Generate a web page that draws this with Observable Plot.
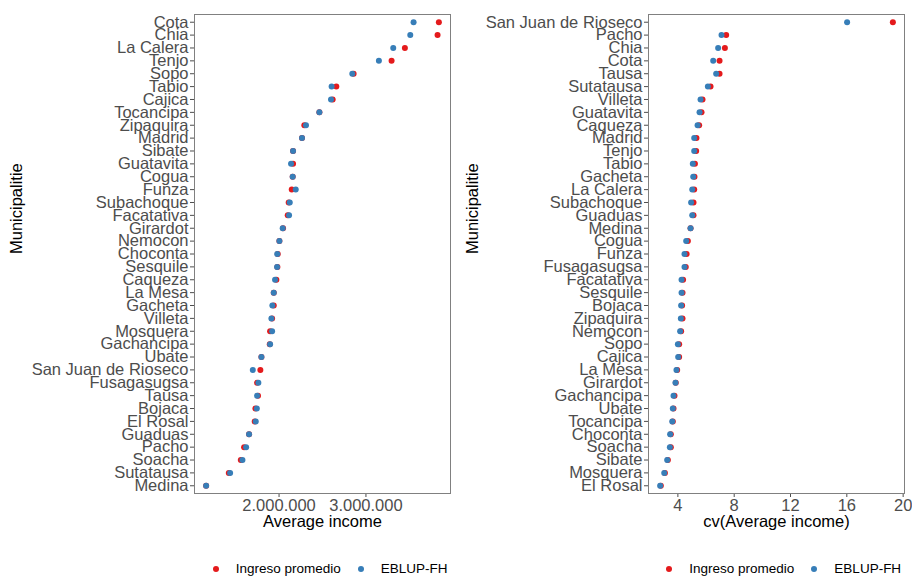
<!DOCTYPE html>
<html><head><meta charset="utf-8">
<script src="https://cdn.jsdelivr.net/npm/d3@7"></script>
<script src="https://cdn.jsdelivr.net/npm/@observablehq/plot@0.6"></script>
<style>
body{margin:0;background:#fff;font-family:"Liberation Sans",Arial,sans-serif;}
#wrap{position:relative;width:912px;height:576px;overflow:hidden;background:#fff;}
.panel{position:absolute;top:0;}
.legend{position:absolute;top:561px;height:16px;line-height:16px;font-size:13.5px;color:#000;display:flex;align-items:center;white-space:nowrap;}
.legend .dot{width:6px;height:6px;border-radius:50%;display:inline-block;margin-right:17px;}
.legend .lab{margin-right:17px;}
</style>
</head><body>
<div id="wrap"></div>
<script>
// ---- data: left panel (Average income), top to bottom ----
const leftMunicipios = ["Cota","Chia","La Calera","Tenjo","Sopo","Tabio","Cajica","Tocancipa","Zipaquira","Madrid","Sibate","Guatavita","Cogua","Funza","Subachoque","Facatativa","Girardot","Nemocon","Choconta","Sesquile","Caqueza","La Mesa","Gacheta","Villeta","Mosquera","Gachancipa","Ubate","San Juan de Rioseco","Fusagasugsa","Tausa","Bojaca","El Rosal","Guaduas","Pacho","Soacha","Sutatausa","Medina"];
const leftIngreso = [3839000,3824000,3448000,3295000,2858000,2659000,2617000,2464000,2291000,2264000,2161000,2161000,2157000,2146000,2111000,2100000,2046000,2004000,1985000,1981000,1969000,1939000,1939000,1920000,1897000,1893000,1797000,1785000,1747000,1758000,1728000,1720000,1655000,1598000,1560000,1422000,1161000];
const leftEblup = [3548000,3510000,3314000,3149000,2843000,2605000,2598000,2464000,2310000,2264000,2161000,2138000,2157000,2192000,2123000,2115000,2042000,2004000,1979000,1977000,1954000,1939000,1923000,1912000,1920000,1897000,1797000,1698000,1762000,1747000,1744000,1732000,1655000,1621000,1579000,1437000,1161000];
const leftTicks = [2000000, 3000000];

// ---- data: right panel (cv of Average income), top to bottom ----
const rightMunicipios = ["San Juan de Rioseco","Pacho","Chia","Cota","Tausa","Sutatausa","Villeta","Guatavita","Caqueza","Madrid","Tenjo","Tabio","Gacheta","La Calera","Subachoque","Guaduas","Medina","Cogua","Funza","Fusagasugsa","Facatativa","Sesquile","Bojaca","Zipaquira","Nemocon","Sopo","Cajica","La Mesa","Girardot","Gachancipa","Ubate","Tocancipa","Choconta","Soacha","Sibate","Mosquera","El Rosal"];
const rightCvIngreso = [19.27,7.43,7.34,6.96,6.96,6.32,5.75,5.68,5.51,5.32,5.30,5.21,5.18,5.16,5.11,5.11,4.90,4.71,4.62,4.56,4.37,4.33,4.30,4.33,4.23,4.09,4.09,3.95,3.85,3.76,3.69,3.64,3.50,3.50,3.29,3.08,2.79];
const rightCvEblup = [16.02,7.10,6.86,6.51,6.72,6.13,5.61,5.54,5.40,5.16,5.16,5.06,5.09,5.02,4.94,5.02,4.90,4.59,4.47,4.47,4.26,4.26,4.23,4.21,4.16,4.00,4.02,3.90,3.83,3.69,3.64,3.60,3.45,3.43,3.24,3.03,2.74];
const rightTicks = [4, 8, 12, 16, 20];

const seriesNames = ["Ingreso promedio", "EBLUP-FH"];
const seriesColors = ["#E41A1C", "#377EB8"];
const yTitle = "Municipalitie";

const fmtDots = d3.formatLocale({decimal: ",", thousands: ".", grouping: [3], currency: ["$", ""]}).format(",d");

function expand(vals) {
  const [a, b] = d3.extent(vals);
  const p = (b - a) * 0.05;
  return [a - p, b + p];
}

function panel({names, red, blue, ticks, tickFormat, xLabel, marginLeft, marginRight}) {
  const rows = [];
  names.forEach((n, i) => rows.push({m: n, v: red[i], s: seriesNames[0]}));
  names.forEach((n, i) => rows.push({m: n, v: blue[i], s: seriesNames[1]}));
  return Plot.plot({
    width: 456, height: 540,
    marginLeft, marginRight, marginTop: 14, marginBottom: 47,
    style: {fontFamily: "'Liberation Sans', Arial, sans-serif", fontSize: "16.5px", color: "#4d4d4d", background: "white"},
    x: {domain: expand([...red, ...blue]), ticks, tickFormat, tickSize: 4, tickPadding: 2, label: null},
    y: {type: "point", domain: names, padding: 0.6, tickSize: 4, tickPadding: 2, label: null},
    color: {domain: seriesNames, range: seriesColors},
    marks: [
      Plot.frame({stroke: "#808080"}),
      Plot.dot(rows, {x: "v", y: "m", fill: "s", r: 3}),
      Plot.text([xLabel], {text: d => d, frameAnchor: "bottom", dy: 33, fill: "black", fontSize: 16.5}),
      Plot.text([yTitle], {text: d => d, frameAnchor: "left", dx: -(marginLeft - 16), rotate: -90, fill: "black", fontSize: 16.5})
    ]
  });
}

const wrap = document.getElementById("wrap");
const p1 = panel({names: leftMunicipios, red: leftIngreso, blue: leftEblup, ticks: leftTicks, tickFormat: fmtDots, xLabel: "Average income", marginLeft: 194, marginRight: 6});
const p2 = panel({names: rightMunicipios, red: rightCvIngreso, blue: rightCvEblup, ticks: rightTicks, tickFormat: d3.format("d"), xLabel: "cv(Average income)", marginLeft: 192, marginRight: 8});
p1.classList.add("panel"); p1.style.left = "0px";
p2.classList.add("panel"); p2.style.left = "456px";
wrap.appendChild(p1); wrap.appendChild(p2);

function legend(left) {
  const d = document.createElement("div");
  d.className = "legend";
  d.style.left = left + "px";
  seriesNames.forEach((n, i) => {
    const dot = document.createElement("span");
    dot.className = "dot"; dot.style.background = seriesColors[i];
    const lab = document.createElement("span");
    lab.className = "lab"; lab.textContent = n;
    d.appendChild(dot); d.appendChild(lab);
  });
  wrap.appendChild(d);
}
legend(212.7);
legend(666.3);
</script>
</body></html>
